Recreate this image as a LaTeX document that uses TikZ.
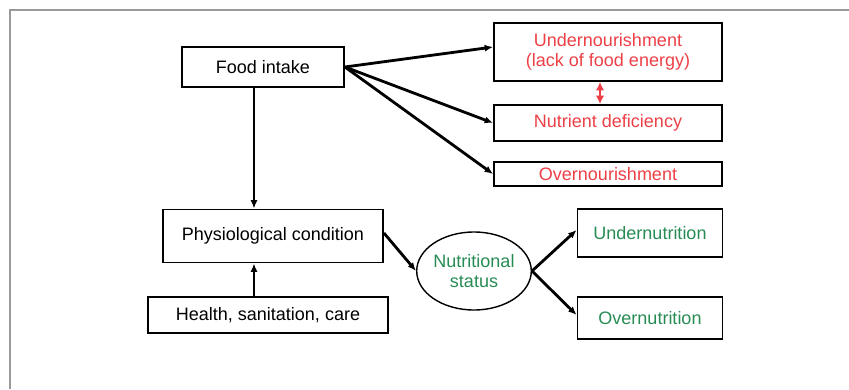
\documentclass[tikz,border=0pt]{standalone}
\usepackage{fontspec}
\setmainfont{Liberation Sans}
\usetikzlibrary{arrows.meta,shapes.geometric}
\definecolor{nourishred}{RGB}{236,64,70}
\definecolor{statusgreen}{RGB}{38,140,84}
\begin{document}
\begin{tikzpicture}[
    x=0.025cm, y=-0.025cm,
    box/.style={rectangle, draw, line width=1.3pt, inner sep=0pt, align=center,
                font=\fontsize{12.8}{14.5}\selectfont},
    redbox/.style={box, text=nourishred, minimum width=228*0.025cm},
    greenbox/.style={box, text=statusgreen, minimum width=145*0.025cm},
    oval/.style={ellipse, draw, line width=1pt, inner sep=0pt, align=center,
                 minimum width=112*0.025cm, minimum height=78*0.025cm,
                 text=statusgreen, font=\fontsize{12.8}{14.5}\selectfont},
    link/.style={-{Latex[length=6pt,width=5pt]}, line width=2pt}
]
    \useasboundingbox (0,0) rectangle (849,389);
    \draw[line width=1.3pt, gray!80] (10,389) -- (10,10) -- (849,10);

    \node[box, minimum width=162*0.025cm, minimum height=40*0.025cm] (food) at (263,67) {Food intake};
    \node[redbox, minimum height=58*0.025cm] (under) at (608,52) {Undernourishment\\(lack of food energy)};
    \node[redbox, minimum height=36*0.025cm] (defic) at (608,123) {Nutrient deficiency};
    \node[redbox, minimum height=24*0.025cm] (over) at (608,174) {Overnourishment};

    \node[box, minimum width=220*0.025cm, minimum height=53*0.025cm] (physio) at (273,236) {Physiological condition};
    \node[box, minimum width=240*0.025cm, minimum height=36*0.025cm] (health) at (268,315) {Health, sanitation, care};

    \node[oval] (status) at (474,271) {Nutritional\\status};
    \node[greenbox, minimum height=48*0.025cm] (undernut) at (650,233) {Undernutrition};
    \node[greenbox, minimum height=42*0.025cm] (overnut) at (650,318) {Overnutrition};

    \draw[link] (food.east) -- ([yshift=5*0.025cm]under.west);
    \draw[link] (food.east) -- (defic.west);
    \draw[link] (food.east) -- (over.west);
    \draw[link] ([xshift=-9*0.025cm]food.south) -- ([xshift=-19*0.025cm]physio.north);
    \draw[link] ([xshift=-14*0.025cm]health.north) -- ([xshift=-19*0.025cm]physio.south);
    \draw[link] ([yshift=3*0.025cm]physio.east) -- (status.west);
    \draw[link] (status.east) -- ([yshift=3*0.025cm]undernut.west);
    \draw[link] (status.east) -- ([yshift=3*0.025cm]overnut.west);
    \draw[{Latex[length=6pt,width=6pt]}-{Latex[length=6pt,width=6pt]}, line width=1.6pt, nourishred]
        ([xshift=-8*0.025cm]under.south) -- ([xshift=-8*0.025cm]defic.north);
\end{tikzpicture}
\end{document}
